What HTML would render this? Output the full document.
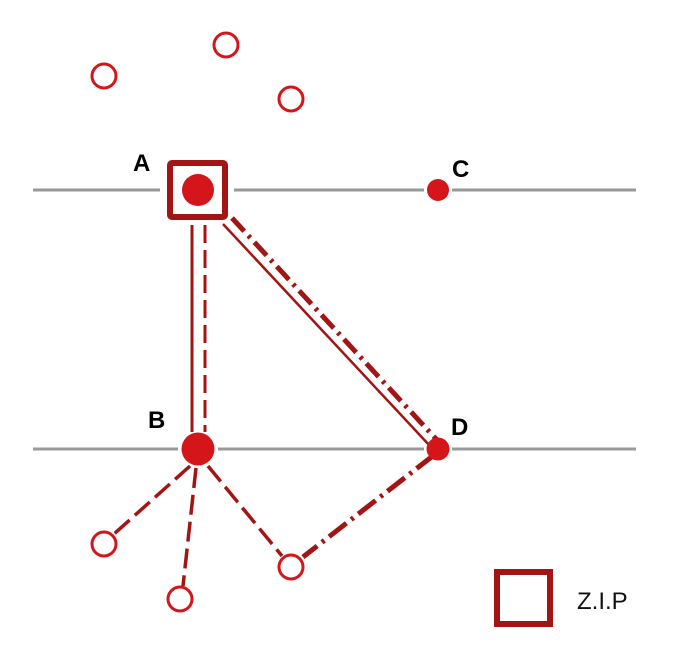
<!DOCTYPE html>
<html><head><style>body{margin:0;background:#fff}svg{display:block}</style></head><body>
<svg width="690" height="668" viewBox="0 0 690 668" xmlns="http://www.w3.org/2000/svg" font-family="Liberation Sans, sans-serif">
<g stroke="#999" stroke-width="3">
<line x1="33" y1="190" x2="636" y2="190"/>
<line x1="33" y1="449" x2="636" y2="449"/>
</g>
<g stroke="#fff" stroke-width="8">
<line x1="160" y1="190" x2="234" y2="190"/>
<line x1="424" y1="190" x2="452" y2="190"/>
<line x1="178" y1="449" x2="218" y2="449"/>
<line x1="424" y1="449" x2="452" y2="449"/>
</g>
<g stroke="#a31515" fill="none">
<line x1="192" y1="225" x2="192" y2="432" stroke-width="3"/>
<line x1="205" y1="225" x2="205" y2="432" stroke-width="3" stroke-dasharray="18,7"/>
<line x1="223" y1="224" x2="430" y2="446" stroke-width="2.5"/>
<line x1="232" y1="218" x2="437" y2="440" stroke-width="5" stroke-dasharray="18,6,3,6"/>
<line x1="190" y1="466" x2="114" y2="534" stroke-width="3.5" stroke-dasharray="20,7"/>
<line x1="196" y1="468" x2="183" y2="586" stroke-width="3.5" stroke-dasharray="20,7"/>
<line x1="208" y1="466" x2="282" y2="556" stroke-width="3.5" stroke-dasharray="20,7"/>
<line x1="434" y1="455" x2="303" y2="557" stroke-width="5" stroke-dasharray="22,6,3,6"/>
</g>
<rect x="170" y="163" width="55" height="54" rx="2" fill="#fff" stroke="#a31515" stroke-width="6"/>
<g fill="#d4161b">
<circle cx="198" cy="190" r="16"/>
<circle cx="438" cy="190" r="11"/>
<circle cx="198" cy="449" r="16.5"/>
<circle cx="438" cy="449" r="11.5"/>
</g>
<g fill="#fff" stroke="#d4161b" stroke-width="3">
<circle cx="104" cy="76" r="12"/>
<circle cx="226" cy="45" r="12"/>
<circle cx="291" cy="99" r="12"/>
<circle cx="104" cy="544" r="12"/>
<circle cx="180" cy="599" r="12"/>
<circle cx="291" cy="567" r="12"/>
</g>
<g font-weight="bold" font-size="24" fill="#000">
<text x="133" y="171">A</text>
<text x="452" y="177">C</text>
<text x="148" y="428">B</text>
<text x="451" y="435">D</text>
</g>
<rect x="497" y="572" width="53" height="52" fill="#fff" stroke="#a31515" stroke-width="6"/>
<text x="577" y="609" font-size="24" fill="#111">Z.I.P</text>
</svg>
</body></html>
